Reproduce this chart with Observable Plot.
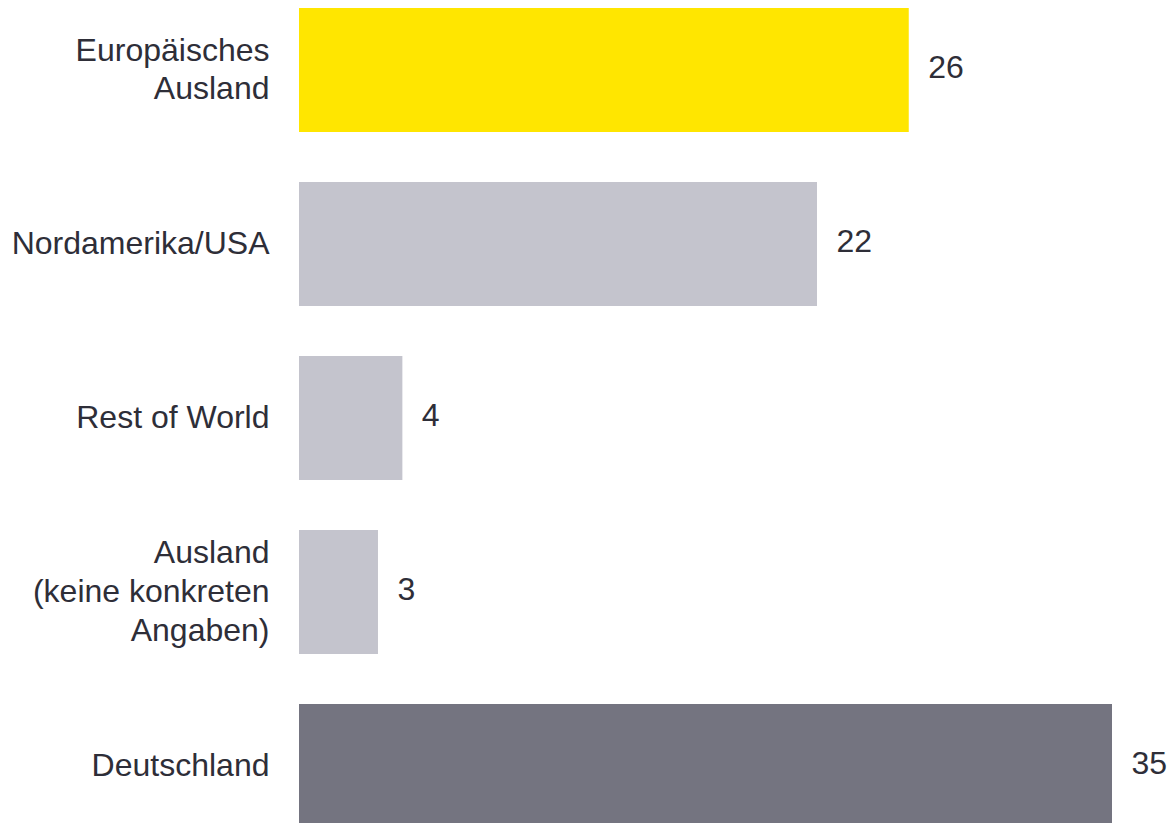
<!DOCTYPE html>
<html>
<head>
<meta charset="utf-8">
<script src="https://cdn.jsdelivr.net/npm/d3@7"></script>
<script src="https://cdn.jsdelivr.net/npm/@observablehq/plot@0.6"></script>
<style>
  html, body { margin: 0; padding: 0; background: #fff; overflow: hidden; }
</style>
</head>
<body>
<div id="chart"></div>
<script>
const categories = [
  "Europäisches\nAusland",
  "Nordamerika/USA",
  "Rest of World",
  "Ausland\n(keine konkreten\nAngaben)",
  "Deutschland"
];
const values = [26.25, 22.3, 4.45, 3.4, 35];
const colors = ["#FFE600", "#C4C4CD", "#C4C4CD", "#C4C4CD", "#747480"];

const data = categories.map((c, i) => ({category: c, value: values[i], color: colors[i]}));
const fmt = d3.format(".0f");
const FONT = "Arial, 'Liberation Sans', sans-serif";

const chart = Plot.plot({
  width: 1169,
  height: 823,
  marginLeft: 299,
  marginRight: 57,
  marginTop: 0,
  marginBottom: 0,
  style: {fontFamily: FONT, fontSize: "32px", color: "#2E2E38", background: "#fff"},
  x: {domain: [0, 35], axis: null},
  y: {domain: categories, range: [8, 828], paddingInner: 50 / 174, paddingOuter: 0, round: false, axis: null},
  marks: [
    Plot.barX(data, {x: "value", y: "category", fill: "color"}),
    Plot.text(data, {
      y: "category", text: "category", frameAnchor: "left", dx: -30, dy: -3,
      textAnchor: "end", lineHeight: 1.21, fontSize: 32, fontFamily: FONT, fill: "#2E2E38"
    }),
    Plot.text(data, {
      x: "value", y: "category", text: d => fmt(d.value), dx: 19, dy: -3,
      textAnchor: "start", fontSize: 32, fontFamily: FONT, fill: "#2E2E38"
    })
  ]
});
document.getElementById("chart").append(chart);
</script>
</body>
</html>
